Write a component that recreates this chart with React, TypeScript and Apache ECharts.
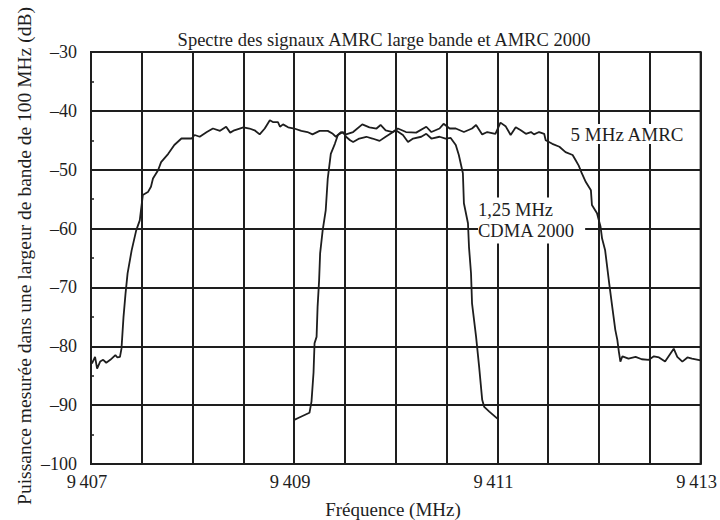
import React, { useEffect, useRef } from "react";
import * as echarts from "echarts";

// 5 MHz AMRC (wideband) trace
const wideFreq = [
  9407.0, 9407.01, 9407.04, 9407.06, 9407.09, 9407.12, 9407.15, 9407.19, 9407.24, 9407.26,
  9407.285, 9407.3, 9407.32, 9407.34, 9407.36, 9407.4, 9407.445, 9407.48, 9407.51, 9407.56,
  9407.59, 9407.61, 9407.66, 9407.69, 9407.76, 9407.82, 9407.89, 9407.95, 9407.99, 9408.02,
  9408.07, 9408.14, 9408.2, 9408.27, 9408.33, 9408.37, 9408.41, 9408.5, 9408.56, 9408.61,
  9408.66, 9408.71, 9408.76, 9408.79, 9408.84, 9408.86, 9408.89, 9408.94, 9409.0, 9409.07,
  9409.13, 9409.18, 9409.25, 9409.33, 9409.38, 9409.41, 9409.46, 9409.51, 9409.58, 9409.67,
  9409.74, 9409.81, 9409.85, 9409.9, 9409.97, 9410.02, 9410.1, 9410.2, 9410.3, 9410.35,
  9410.43, 9410.47, 9410.53, 9410.59, 9410.67, 9410.75, 9410.79, 9410.85, 9410.9, 9410.98,
  9411.03, 9411.08, 9411.13, 9411.18, 9411.23, 9411.28, 9411.33, 9411.36, 9411.41, 9411.46,
  9411.475, 9411.54, 9411.61, 9411.67, 9411.74, 9411.77, 9411.8, 9411.83, 9411.87, 9411.92,
  9411.93, 9411.98, 9412.015, 9412.03, 9412.06, 9412.1, 9412.13, 9412.16, 9412.18, 9412.195,
  9412.21, 9412.23, 9412.29, 9412.36, 9412.42, 9412.49, 9412.54, 9412.59, 9412.65, 9412.7,
  9412.735, 9412.77, 9412.82, 9412.87, 9412.915, 9413.0,
];
const wideDb = [
  -82.4, -82.9, -81.8, -83.8, -82.6, -82.3, -82.8, -82.3, -81.5, -81.9,
  -81.8, -80.4, -75.0, -71.0, -67.6, -63.7, -60.3, -58.6, -54.3, -53.8,
  -52.9, -51.5, -50.1, -48.7, -47.3, -45.8, -44.7, -44.7, -44.7, -44.1,
  -44.4, -43.6, -43.0, -43.4, -42.7, -43.7, -43.3, -42.8, -43.0, -43.3,
  -44.0, -43.0, -41.6, -41.9, -41.9, -42.7, -42.3, -42.8, -43.0, -43.4,
  -43.6, -44.0, -43.4, -43.4, -43.9, -44.4, -43.6, -44.0, -43.6, -42.3,
  -42.8, -43.0, -42.4, -43.3, -43.6, -43.0, -43.6, -43.7, -42.7, -43.6,
  -43.0, -42.2, -43.0, -43.0, -43.6, -43.0, -42.4, -44.0, -43.6, -43.9,
  -42.0, -42.6, -44.1, -42.8, -43.3, -43.9, -43.6, -44.0, -43.6, -43.9,
  -45.0, -45.6, -46.1, -47.0, -47.5, -48.4, -49.3, -50.6, -52.1, -53.5,
  -56.0, -57.4, -59.7, -61.7, -63.7, -69.3, -73.3, -77.2, -78.9, -80.9,
  -82.6, -81.7, -82.1, -81.8, -82.2, -82.3, -81.7, -81.9, -82.6, -81.3,
  -80.4, -81.8, -82.6, -81.9, -82.1, -82.4,
];

// 1,25 MHz CDMA 2000 trace
const cdmaFreq = [
  9409.0, 9409.05, 9409.15, 9409.17, 9409.19, 9409.2, 9409.22, 9409.23, 9409.245, 9409.255,
  9409.28, 9409.31, 9409.33, 9409.36, 9409.4, 9409.43, 9409.48, 9409.51, 9409.55, 9409.58,
  9409.64, 9409.71, 9409.77, 9409.84, 9409.9, 9410.0, 9410.07, 9410.12, 9410.17, 9410.25,
  9410.3, 9410.35, 9410.43, 9410.49, 9410.54, 9410.59, 9410.62, 9410.66, 9410.67, 9410.71,
  9410.72, 9410.74, 9410.75, 9410.79, 9410.82, 9410.85, 9410.87, 9410.92, 9411.0,
];
const cdmaDb = [
  -92.5, -92.1, -91.3, -89.4, -84.5, -79.5, -78.4, -73.3, -68.8, -64.2,
  -60.3, -56.9, -51.5, -47.3, -45.6, -44.1, -43.6, -44.4, -45.0, -45.3,
  -44.7, -44.4, -44.7, -45.1, -44.4, -43.3, -44.1, -45.3, -44.7, -44.4,
  -43.9, -44.7, -44.4, -44.7, -44.6, -45.8, -47.5, -50.6, -55.7, -59.1,
  -63.1, -67.6, -72.7, -78.4, -83.5, -89.1, -90.3, -91.1, -92.3,
];

const xLabelValues = [9407, 9409, 9411, 9413];
const yMin = -100;
const yMax = -30;

const FONT = "'Liberation Serif', 'DejaVu Serif', serif";
const INK = "#1e1e1e";

function fmtX(v: number): string {
  const s = String(Math.round(v));
  return s.slice(0, 1) + "\u2009" + s.slice(1);
}

export default function App() {
  const ref = useRef<HTMLDivElement>(null);
  useEffect(() => {
    document.body.style.margin = "0";
    if (!ref.current) return;
    const chart = echarts.init(ref.current, undefined, { renderer: "svg" });
    const wide = wideFreq.map((f, i) => [f, wideDb[i]]);
    const cdma = cdmaFreq.map((f, i) => [f, cdmaDb[i]]);
    chart.setOption({
      animation: false,
      backgroundColor: "#ffffff",
      grid: {
        left: 91,
        right: 18,
        top: 52,
        bottom: 56,
        show: true,
        borderColor: INK,
        borderWidth: 2,
        backgroundColor: "transparent",
      },
      xAxis: {
        type: "value",
        min: 9407,
        max: 9413,
        interval: 0.5,
        axisLine: { show: true, lineStyle: { color: INK, width: 2 } },
        axisTick: { show: false },
        splitLine: { show: true, lineStyle: { color: INK, width: 2 } },
        axisLabel: {
          margin: 8,
          fontFamily: FONT,
          fontSize: 18.5,
          color: INK,
          padding: [0, 8, 0, 0],
          showMinLabel: true,
          showMaxLabel: true,
          formatter: (v: number) =>
            xLabelValues.some((t) => Math.abs(t - v) < 1e-6) ? fmtX(v) : "",
        },
      },
      yAxis: {
        type: "value",
        min: yMin,
        max: yMax,
        interval: 10,
        axisLine: { show: true, lineStyle: { color: INK, width: 2 } },
        axisTick: { show: false, inside: true },
        minorTick: { show: true, splitNumber: 2, length: 3, lineStyle: { color: INK, width: 1.5 } },
        splitLine: { show: true, lineStyle: { color: INK, width: 2 } },
        axisLabel: {
          margin: 14,
          fontFamily: FONT,
          fontSize: 18,
          color: INK,
          formatter: (v: number) => (v < 0 ? "\u2013" + String(Math.abs(v)) : String(v)),
        },
      },
      series: [
        {
          name: "5 MHz AMRC",
          type: "line",
          data: wide,
          showSymbol: false,
          lineStyle: { color: INK, width: 1.8 },
          z: 3,
        },
        {
          name: "1,25 MHz CDMA 2000",
          type: "line",
          data: cdma,
          showSymbol: false,
          lineStyle: { color: INK, width: 1.8 },
          z: 3,
        },
      ],
      graphic: [
        {
          type: "text",
          x: 384,
          y: 40,
          style: {
            text: "Spectre des signaux AMRC large bande et AMRC 2000",
            font: `18.5px ${FONT}`,
            fill: INK,
            textAlign: "center",
            textVerticalAlign: "middle",
          },
        },
        {
          type: "text",
          x: 24,
          y: 256,
          rotation: Math.PI / 2,
          style: {
            text: "Puissance mesurée dans une largeur de bande de 100 MHz (dB)",
            font: `19.5px ${FONT}`,
            fill: INK,
            textAlign: "center",
            textVerticalAlign: "middle",
          },
        },
        {
          type: "text",
          x: 393,
          y: 509,
          style: {
            text: "Fréquence (MHz)",
            font: `19px ${FONT}`,
            fill: INK,
            textAlign: "center",
            textVerticalAlign: "middle",
          },
        },
        {
          type: "text",
          x: 627,
          y: 134,
          z: 10,
          style: {
            text: "5 MHz AMRC",
            font: `19px ${FONT}`,
            fill: INK,
            textAlign: "center",
            textVerticalAlign: "middle",
            backgroundColor: "#ffffff",
            padding: [1, 6, 1, 6],
            lineHeight: 18,
          },
        },
        {
          type: "text",
          x: 478,
          y: 220.5,
          z: 10,
          style: {
            text: "1,25 MHz\nCDMA 2000",
            font: `18.5px ${FONT}`,
            fill: INK,
            textAlign: "left",
            textVerticalAlign: "middle",
            backgroundColor: "#ffffff",
            padding: [2, 10, 2, 0],
            lineHeight: 21,
          },
        },
      ],
    });
    return () => chart.dispose();
  }, []);
  return <div ref={ref} style={{ width: 720, height: 520 }} />;
}
